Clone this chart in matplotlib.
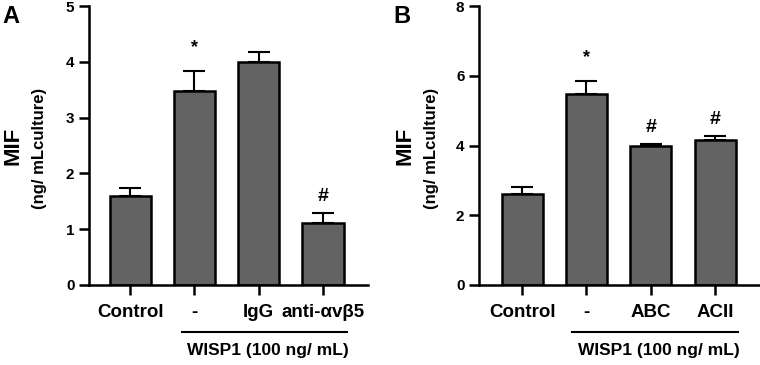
import numpy as np
import matplotlib
matplotlib.use('Agg')
import matplotlib.pyplot as plt

plt.rcParams['font.family'] = ['Liberation Sans', 'DejaVu Sans']
plt.rcParams['font.weight'] = 'bold'

# panel A
labels_a = ['Control', '-', 'IgG', 'anti-\u03b1v\u03b25']
mean_a = [1.59, 3.48, 4.0, 1.12]
err_a = [0.14, 0.36, 0.18, 0.17]
marks_a = ['', '*', '', '#']

# panel B
labels_b = ['Control', '-', 'ABC', 'ACII']
mean_b = [2.62, 5.47, 3.98, 4.15]
err_b = [0.2, 0.38, 0.05, 0.12]
marks_b = ['', '*', '#', '#']

W, H = 760, 365
fig = plt.figure(figsize=(W / 100, H / 100), dpi=100)

bar_col = '#636363'
lw = 1.8


def panel(rect, labels, mean, err, marks, ymax, yticks, xlim, letter, letter_x, ylab_x, line_x):
    ax = fig.add_axes(rect)
    x = np.arange(len(mean))
    ax.bar(x, mean, width=0.64, color=bar_col, edgecolor='black', linewidth=lw, zorder=2)
    ax.errorbar(x, mean, yerr=[np.zeros(len(err)), err], fmt='none', ecolor='black',
                elinewidth=1.5, capsize=8, capthick=1.5, zorder=1)
    for xi, m, e, s in zip(x, mean, err, marks):
        if s == '*':
            ax.annotate(s, (xi, m + e), xytext=(0, 17), textcoords='offset points',
                        ha='center', va='center', fontsize=13, fontweight='bold')
        elif s:
            ax.annotate(s, (xi, m + e), xytext=(0, 12), textcoords='offset points',
                        ha='center', va='center', fontsize=14, fontweight='bold')
    ax.set_xlim(*xlim)
    ax.set_ylim(0, ymax)
    ax.set_yticks(yticks)
    ax.set_xticks(x)
    ax.set_xticklabels(labels, fontsize=13.5, fontweight='bold')
    for t in ax.get_yticklabels():
        t.set_fontsize(11)
        t.set_fontweight('bold')
    ax.spines['top'].set_visible(False)
    ax.spines['right'].set_visible(False)
    ax.spines['left'].set_linewidth(lw)
    ax.spines['bottom'].set_linewidth(lw)
    ax.tick_params(axis='both', width=lw, length=7, direction='out')
    ax.tick_params(axis='x', pad=7)
    ax.text(ylab_x[0], 0.5, 'MIF', rotation=90, transform=ax.transAxes, ha='center', va='center',
            fontsize=16, fontweight='bold')
    ax.text(ylab_x[1], 0.49, '(ng/ mLculture)', rotation=90, transform=ax.transAxes, ha='center',
            va='center', fontsize=12, fontweight='bold')
    ax.plot(line_x, [-0.168, -0.168], color='black', lw=1.5,
            transform=ax.get_xaxis_transform(), clip_on=False)
    ax.text(np.mean(line_x) + 0.05, -0.235, 'WISP1 (100 ng/ mL)', transform=ax.get_xaxis_transform(),
            ha='center', va='center', fontsize=12.5, fontweight='bold')
    fig.text(letter_x, 0.955, letter, fontsize=17, fontweight='bold', ha='left', va='center')
    return ax


panel([89 / W, 80 / H, 279 / W, 279 / H], labels_a, mean_a, err_a, marks_a, 5, range(0, 6),
      (-0.64, 3.7), 'A', 2 / W, (-0.272, -0.176), [0.81, 3.37])
panel([479 / W, 80 / H, 280 / W, 279 / H], labels_b, mean_b, err_b, marks_b, 8, range(0, 9, 2),
      (-0.67, 3.68), 'B', 393 / W, (-0.264, -0.168), [0.78, 3.36])

fig.savefig('out.png', dpi=100)
